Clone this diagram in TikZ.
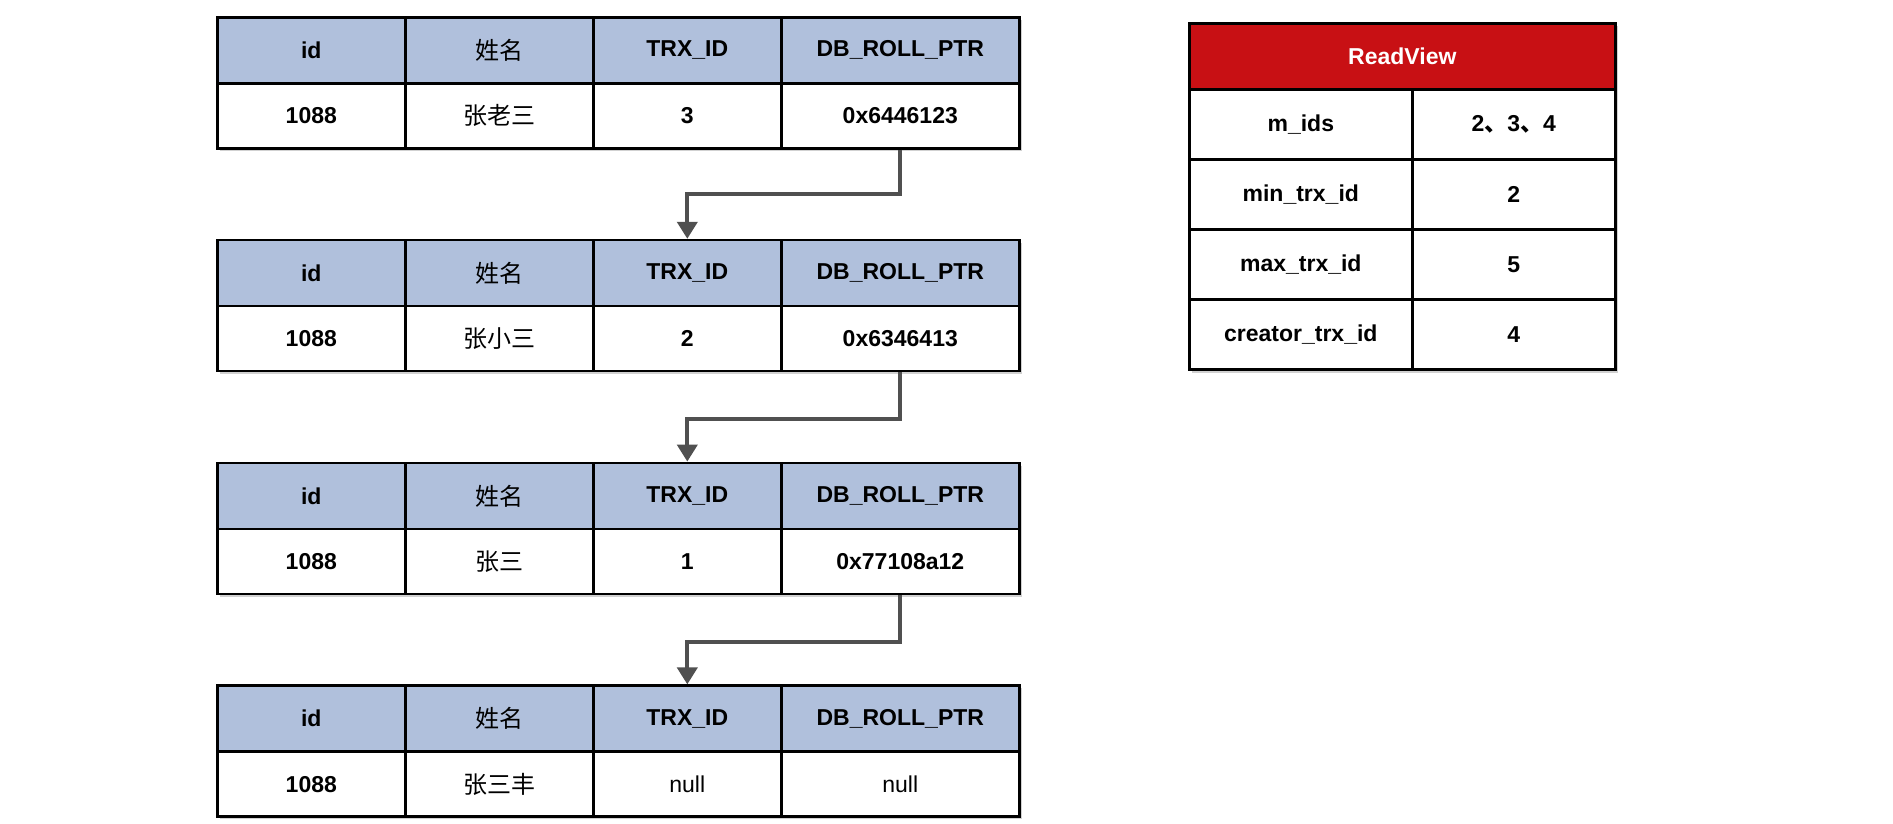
\documentclass[tikz,border=0pt]{standalone}
\usepackage{fontspec}
\setmainfont{Liberation Sans}
\newfontfamily\cjk{Noto Sans CJK SC}
\usetikzlibrary{arrows.meta}
\definecolor{hdr}{RGB}{176,192,220}
\definecolor{rvred}{RGB}{200,16,20}
\definecolor{arr}{RGB}{80,80,80}
\begin{document}
\begin{tikzpicture}[x=1pt,y=-1pt,
  cell/.style={draw=black, line width=2.6pt, anchor=north west, inner sep=0pt,
    font=\fontsize{23}{27}\selectfont\bfseries, text=black},
  hcell/.style={cell, fill=hdr, minimum height=66pt},
  bcell/.style={cell, fill=white, minimum height=65pt},
  cn/.style={font=\fontsize{24}{28}\selectfont\cjk},
  link/.style={draw=arr, line width=4pt, -{Triangle[width=20pt,length=17pt]}},
  shade/.style={fill=black, opacity=0.18}]
\useasboundingbox (0,0) rectangle (1893,823);
\foreach \i/\top/\nm/\trx/\ptr in {1/16/张老三/3/0x6446123, 2/238.8/张小三/2/0x6346413, 3/461.6/张三/1/0x77108a12, 4/684.4/张三丰/{\mdseries null}/{\mdseries null}} {
  \fill[shade] (220,\top+4) rectangle (1022,\top+135);
  \node[hcell, minimum width=188pt] (t\i h1) at (216,\top) {id};
  \node[hcell, minimum width=188pt, cn] (t\i h2) at (404,\top) {姓名};
  \node[hcell, minimum width=188pt] (t\i h3) at (592,\top) {TRX\_ID};
  \node[hcell, minimum width=238pt] (t\i h4) at (780,\top) {DB\_ROLL\_PTR};
  \node[bcell, minimum width=188pt] (t\i r1) at (216,\top+66) {1088};
  \node[bcell, minimum width=188pt, cn] (t\i r2) at (404,\top+66) {\nm};
  \node[bcell, minimum width=188pt] (t\i r3) at (592,\top+66) {\trx};
  \node[bcell, minimum width=238pt] (t\i r4) at (780,\top+66) {\ptr};
}
\draw[link] (t1r4.south) -- ++(0,44) -| (t2h3.north);
\draw[link] (t2r4.south) -- ++(0,47) -| (t3h3.north);
\draw[link] (t3r4.south) -- ++(0,47) -| (t4h3.north);
% ReadView
\fill[shade] (1192,26) rectangle (1618,373);
\node[cell, fill=rvred, text=white, minimum width=426pt, minimum height=66pt] (rv) at (1188,22) {ReadView};
\foreach \j/\y/\k/\v in {1/88/m\_ids/2{\cjk 、}3{\cjk 、}4, 2/158/min\_trx\_id/2, 3/228/max\_trx\_id/5, 4/298/creator\_trx\_id/4} {
  \node[cell, fill=white, minimum width=223pt, minimum height=70pt] (rk\j) at (1188,\y) {\k};
  \node[cell, fill=white, minimum width=203pt, minimum height=70pt] (rv\j) at (1411,\y) {\v};
}
\end{tikzpicture}
\end{document}
